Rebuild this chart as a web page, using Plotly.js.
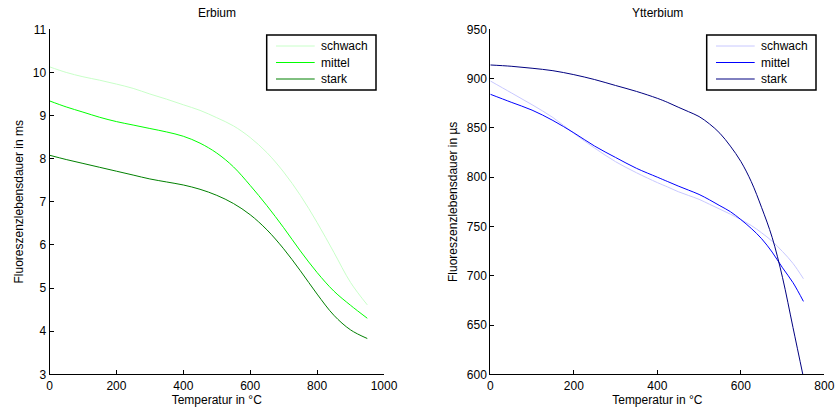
<!DOCTYPE html>
<html>
<head>
<meta charset="utf-8">
<script src="https://cdn.plot.ly/plotly-3.0.1.min.js"></script>
<style>html,body{margin:0;padding:0;background:#fff;}#chart{width:835px;height:414px;}</style>
</head>
<body>
<div id="chart"></div>
<script>
// Erbium (left), lifetimes in ms
const erTemp = [0,50,100,150,200,250,300,350,400,450,500,550,600,650,700,750,800,850,900,950];
const erSchwach = [10.13,10.00,9.90,9.82,9.73,9.63,9.50,9.38,9.25,9.12,8.95,8.76,8.49,8.14,7.69,7.15,6.52,5.83,5.13,4.61];
const erMittel  = [9.34,9.20,9.08,8.96,8.86,8.78,8.70,8.62,8.52,8.36,8.13,7.81,7.38,6.91,6.40,5.86,5.36,4.93,4.60,4.30];
const erStark   = [8.08,7.98,7.89,7.80,7.71,7.62,7.53,7.46,7.39,7.29,7.15,6.96,6.70,6.35,5.91,5.40,4.86,4.37,4.03,3.83];

// Ytterbium (right), lifetimes in µs
const ybTemp = [0,50,100,150,200,250,300,350,400,425,450,475,500,525,550,575,600,625,650,675,700,725,750];
const ybSchwach = [897.6,885.6,873.5,860.5,844.5,829.5,815.7,804.5,794.5,790.0,785.3,781.4,777.5,772.5,767.5,762.5,757.0,751.0,743.5,735.0,724.5,712.5,697.0];
const ybMittel  = [884.1,876.0,868.0,857.5,845.0,831.5,820.0,809.0,800.0,795.5,791.0,786.8,782.5,777.0,771.0,765.0,757.0,748.0,737.5,724.0,708.0,693.0,674.0];
const ybStark   = [913.8,912.5,910.5,908.0,904.0,899.0,893.0,887.0,880.0,875.8,871.0,866.4,861.5,854.0,844.5,831.5,816.0,795.5,769.0,739.0,698.0,647.5,597.0];

const seriesNames = ['schwach','mittel','stark'];
const erColors = ['#c8ffc8','#00ff00','#008000'];
const ybColors = ['#c8c8ff','#0000ff','#000080'];

const FONT = 'Liberation Sans, Arial, Helvetica, sans-serif';
const W = 835, H = 414;

function mk(x, y, name, color, xa, ya) {
  return {x: x, y: y, name: name, type: 'scatter', mode: 'lines',
    line: {color: color, width: 1, shape: 'spline', smoothing: 1},
    xaxis: xa, yaxis: ya, showlegend: false, hoverinfo: 'skip'};
}

const traces = [
  mk(erTemp, erSchwach, seriesNames[0], erColors[0], 'x', 'y'),
  mk(erTemp, erMittel,  seriesNames[1], erColors[1], 'x', 'y'),
  mk(erTemp, erStark,   seriesNames[2], erColors[2], 'x', 'y'),
  mk(ybTemp, ybSchwach, seriesNames[0], ybColors[0], 'x2', 'y2'),
  mk(ybTemp, ybMittel,  seriesNames[1], ybColors[1], 'x2', 'y2'),
  mk(ybTemp, ybStark,   seriesNames[2], ybColors[2], 'x2', 'y2')
];

const yDom = [1 - 374.3/H, 1 - 29.3/H];
function axisBase(extra) {
  return Object.assign({
    showgrid: false, zeroline: false, showline: true, linecolor: '#000', linewidth: 1,
    ticks: 'inside', ticklen: 4, tickcolor: '#000', tickwidth: 1,
    tickfont: {family: FONT, size: 12, color: '#000'},
    mirror: false
  }, extra);
}

// Legend boxes (MATLAB style), built from the series names and colours
const shapes = [];
const annotations = [];
function legendBox(left, colors) {
  const top = 35, bottom = 90;
  shapes.push({type: 'rect', xref: 'paper', yref: 'paper',
    x0: left/W, x1: (left + 109.3)/W, y0: 1 - bottom/H, y1: 1 - top/H,
    line: {color: '#000', width: 1.5}, fillcolor: '#fff', layer: 'above'});
  const rows = [46, 62.5, 79];
  seriesNames.forEach((nm, i) => {
    shapes.push({type: 'line', xref: 'paper', yref: 'paper',
      x0: (left + 9.3)/W, x1: (left + 48)/W, y0: 1 - rows[i]/H, y1: 1 - rows[i]/H,
      line: {color: colors[i], width: 1}, layer: 'above'});
    annotations.push({text: nm, xref: 'paper', yref: 'paper', x: (left + 52.5)/W, y: 1 - rows[i]/H,
      xanchor: 'left', yanchor: 'middle', showarrow: false,
      font: {family: FONT, size: 12, color: '#000'}});
  });
}
legendBox(266.7, erColors);
legendBox(706.7, ybColors);

annotations.push(
  {text: 'Erbium', x: (49.5+384)/2/W, y: 1 - 13/H, xref: 'paper', yref: 'paper',
   showarrow: false, xanchor: 'center', yanchor: 'middle', font: {family: FONT, size: 12, color: '#000'}},
  {text: 'Ytterbium', x: (490.3+824.3)/2/W, y: 1 - 13/H, xref: 'paper', yref: 'paper',
   showarrow: false, xanchor: 'center', yanchor: 'middle', font: {family: FONT, size: 12, color: '#000'}}
);

const layout = {
  width: W, height: H,
  margin: {l: 0, r: 0, t: 0, b: 0},
  paper_bgcolor: '#fff', plot_bgcolor: '#fff',
  font: {family: FONT, size: 12, color: '#000'},
  showlegend: false,
  xaxis: axisBase({domain: [49.5/W, 384/W], range: [0, 1000], dtick: 200, tick0: 0, anchor: 'y',
    title: {text: 'Temperatur in °C', font: {family: FONT, size: 12}, standoff: 2}}),
  yaxis: axisBase({domain: yDom, range: [3, 11], dtick: 1, tick0: 3, anchor: 'x',
    title: {text: 'Fluoreszenzlebensdauer in ms', font: {family: FONT, size: 12}, standoff: 6}}),
  xaxis2: axisBase({domain: [490.3/W, 824.3/W], range: [0, 800], dtick: 200, tick0: 0, anchor: 'y2',
    title: {text: 'Temperatur in °C', font: {family: FONT, size: 12}, standoff: 2}}),
  yaxis2: axisBase({domain: yDom, range: [600, 950], dtick: 50, tick0: 600, anchor: 'x2',
    title: {text: 'Fluoreszenzlebensdauer in µs', font: {family: FONT, size: 12}, standoff: 6}}),
  shapes: shapes,
  annotations: annotations
};

Plotly.newPlot('chart', traces, layout, {displayModeBar: false, staticPlot: true});
</script>
</body>
</html>
